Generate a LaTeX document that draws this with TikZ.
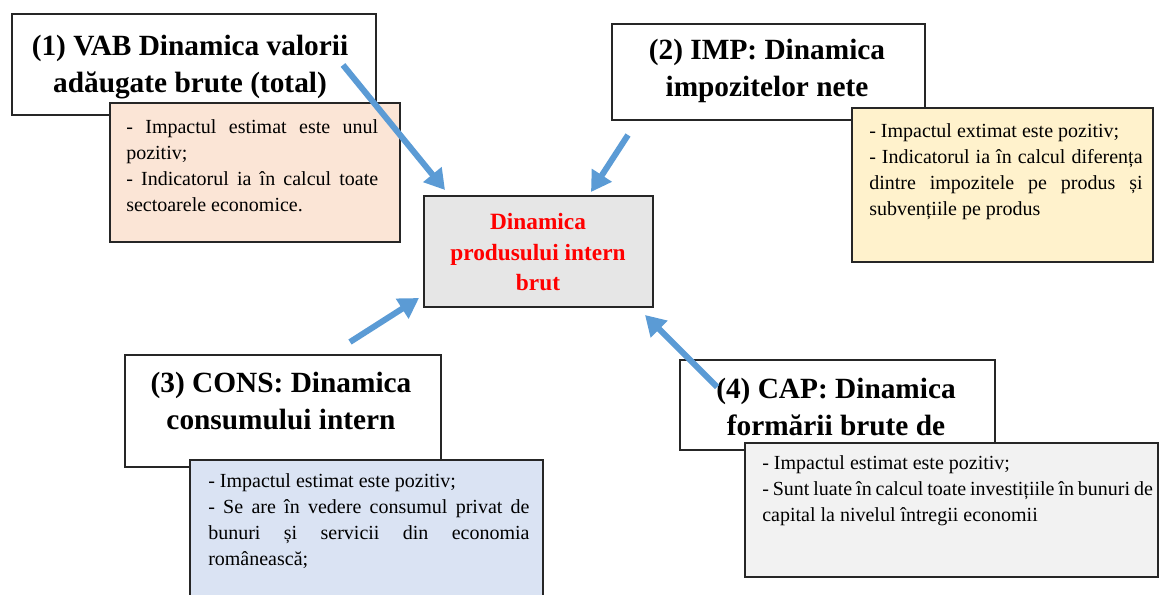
\documentclass[tikz,border=0pt]{standalone}
\usepackage{fontspec}
\setmainfont{Liberation Serif}
\usetikzlibrary{arrows.meta,fit}
\definecolor{pibInk}{HTML}{262626}
\definecolor{pibBlue}{HTML}{5B9BD5}
\definecolor{pibPeach}{HTML}{FBE5D6}
\definecolor{pibCream}{HTML}{FFF2CC}
\definecolor{pibSky}{HTML}{DAE3F3}
\definecolor{pibPale}{HTML}{F2F2F2}
\definecolor{pibGray}{HTML}{E6E6E6}
\tikzset{
 pib/.style={line join=miter},
 boxline/.style={draw=pibInk,line width=1.1pt,inner sep=0pt},
 titlebox/.style={boxline,fill=white},
 notebox/.style={boxline,fill=#1},
 titletext/.style={font=\fontsize{22}{27.5}\selectfont\bfseries,align=center,anchor=north,inner sep=0pt},
 notetext/.style={font=\fontsize{15}{19.5}\selectfont,align=justify,anchor=north west,inner sep=0pt,text width=#1},
 centertext/.style={font=\fontsize{17.5}{23}\selectfont\bfseries,text=red,align=center,anchor=north,inner sep=0pt},
 push/.style={draw=pibBlue,line width=4.5pt,-{Triangle[length=15pt,width=17pt]}}
}

\begin{document}
\begin{tikzpicture}[pib,x=.75pt,y=-.75pt]
 \clip (0,0) rectangle (1160,595);
 % (1) VAB
 \node[titlebox,fit={(12,14) (376,115)}] (t1) {};
 \node[titletext] (t1txt) at (190,35) {(1) VAB Dinamica valorii\\adăugate brute (total)};
 \node[notebox=pibPeach,fit={(110,103) (400,242)}] (n1) {};
 \node[notetext=189pt] (n1txt) at (126,119) {- Impactul estimat este unul\linebreak pozitiv;\\- Indicatorul ia în calcul toate\linebreak sectoarele economice.};
 % (2) IMP
 \node[titlebox,fit={(612,24) (925,120)}] (t2) {};
 \node[titletext] (t2txt) at (767,39) {(2) IMP: Dinamica\\impozitelor nete};
 \node[notebox=pibCream,fit={(852,108) (1153,262)}] (n2) {};
 \node[notetext=205pt] (n2txt) at (869,123) {- Impactul extimat este pozitiv;\\- Indicatorul ia în calcul diferența\linebreak dintre impozitele pe produs și\linebreak subvențiile pe produs};
 % (3) CONS
 \node[titlebox,fit={(125,355) (441,467)}] (t3) {};
 \node[titletext] (t3txt) at (281,372) {(3) CONS: Dinamica\\consumului intern};
 \node[notebox=pibSky,fit={(190,460) (543,600)}] (n3) {};
 \node[notetext=241pt] (n3txt) at (208,473) {- Impactul estimat este pozitiv;\\- Se are în vedere consumul privat de\linebreak bunuri și servicii din economia\linebreak românească;};
 % (4) CAP
 \node[titlebox,fit={(680,360) (995,450)}] (t4) {};
 \node[titletext] (t4txt) at (836,378) {(4) CAP: Dinamica\\formării brute de};
 \node[notebox=pibPale,fit={(745,443) (1158,577)}] (n4) {};
 \node[notetext=293pt] (n4txt) at (762,455) {- Impactul estimat este pozitiv;\\- Sunt luate în calcul toate investițiile în bunuri de\linebreak capital la nivelul întregii economii};
 % PIB
 \node[notebox=pibGray,fit={(424,196) (653,307)}] (ctr) {};
 \node[centertext] (ctrtxt) at (538,213) {Dinamica\\produsului intern\\brut};
 % arrows
 \coordinate (a1) at (343,65);  \coordinate (h1) at (445,190);
 \coordinate (a2) at (628,135); \coordinate (h2) at (591,192);
 \coordinate (a3) at (350,342); \coordinate (h3) at (419,298);
 \coordinate (a4) at (717,387); \coordinate (h4) at (645,315);
 \foreach \s/\e in {a1/h1,a2/h2,a3/h3,a4/h4} {\draw[push] (\s) -- (\e);}
\end{tikzpicture}
\end{document}
